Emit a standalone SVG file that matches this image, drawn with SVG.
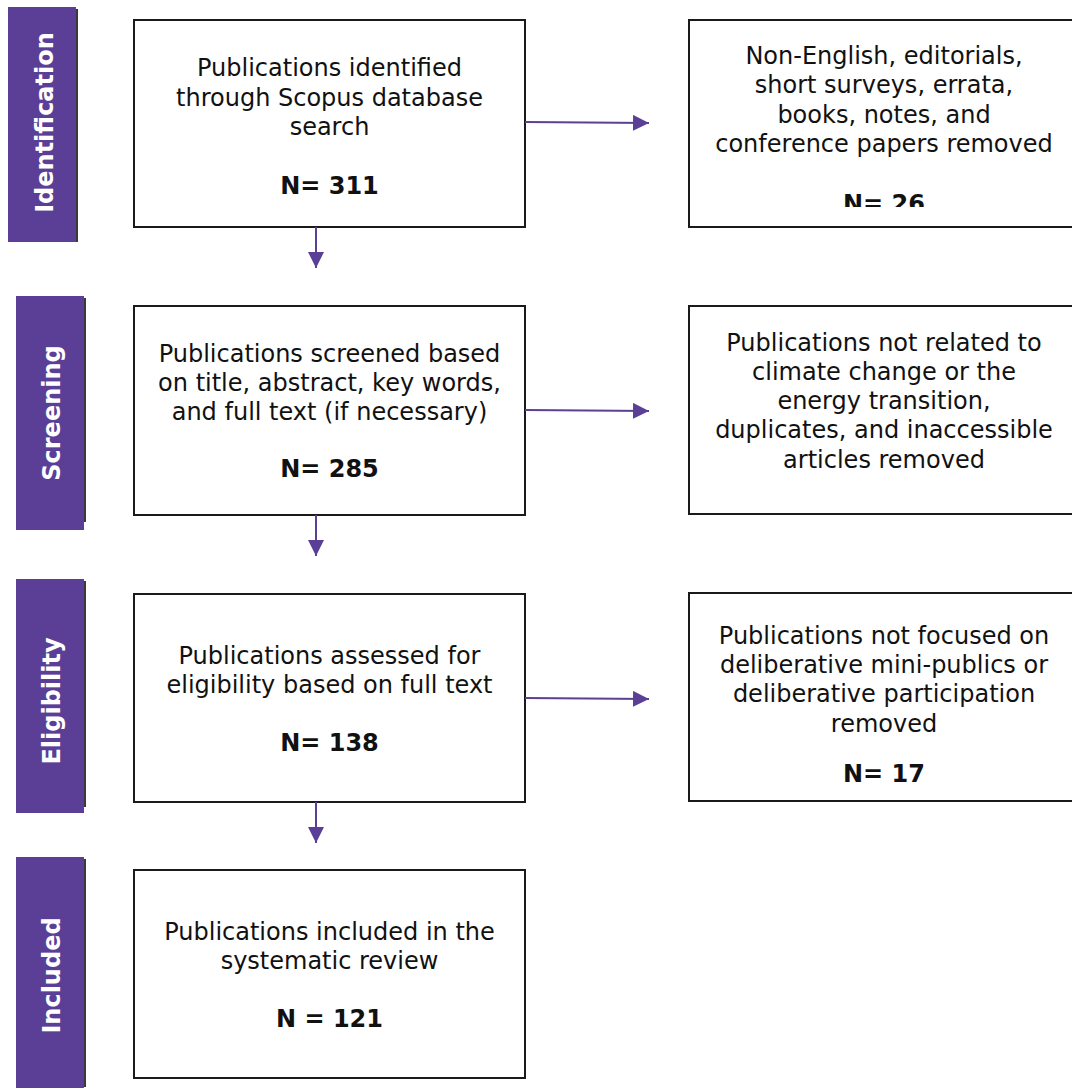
<svg xmlns="http://www.w3.org/2000/svg" width="1072" height="1088" viewBox="0 0 1072 1088">
<style>
.bar{fill:#5B3F97;stroke:none}
.shadow{fill:#3a3a3a}
.lbl{font-family:"DejaVu Sans","Verdana",sans-serif;font-size:24px;font-weight:bold;fill:#ffffff;text-anchor:middle}
.box{fill:#ffffff;stroke:#1a1a1a;stroke-width:2}
.t{font-family:"DejaVu Sans","Verdana",sans-serif;font-size:24px;fill:#111111;text-anchor:middle}
.n{font-family:"DejaVu Sans","Verdana",sans-serif;font-size:24px;font-weight:bold;fill:#111111;text-anchor:middle}
.conn{stroke:#5B3F97;stroke-width:2;fill:none}
</style>
<defs>
<marker id="ah" markerUnits="userSpaceOnUse" markerWidth="16" markerHeight="16" refX="16" refY="8" orient="auto">
<path d="M0,0 L16,8 L0,16 Z" fill="#5B3F97"/>
</marker>
<clipPath id="clipR1"><rect x="689" y="19" width="390" height="188"/></clipPath>
</defs>
<rect width="1072" height="1088" fill="#ffffff"/>

<g id="stage-identification">
<rect class="shadow" x="76" y="9" width="2" height="233"/>
<rect class="bar" x="8" y="7" width="68" height="235"/>
<text class="lbl" transform="translate(52.5,122.5) rotate(-90)">Identification</text>
</g>
<g id="stage-screening">
<rect class="shadow" x="84" y="298" width="2" height="224"/>
<rect class="bar" x="16" y="296" width="68" height="234"/>
<text class="lbl" transform="translate(59.5,413) rotate(-90)">Screening</text>
</g>
<g id="stage-eligibility">
<rect class="shadow" x="84" y="581" width="2" height="226"/>
<rect class="bar" x="16" y="579" width="68" height="234"/>
<text class="lbl" transform="translate(59.5,701) rotate(-90)">Eligibility</text>
</g>
<g id="stage-included">
<rect class="shadow" x="84" y="859" width="2" height="228"/>
<rect class="bar" x="16" y="857" width="68" height="231"/>
<text class="lbl" transform="translate(59.5,975.5) rotate(-90)">Included</text>
</g>

<g id="identified">
<rect class="box" x="134" y="20" width="391" height="207"/>
<text class="t" x="329.5" y="76">Publications identified</text>
<text class="t" x="329.5" y="105.5">through Scopus database</text>
<text class="t" x="329.5" y="135">search</text>
<text class="n" x="329.5" y="194">N= 311</text>
</g>
<g id="excluded-1">
<rect class="box" x="689" y="20" width="390" height="207"/>
<text class="t" x="884" y="64">Non-English, editorials,</text>
<text class="t" x="884" y="93.3">short surveys, errata,</text>
<text class="t" x="884" y="122.6">books, notes, and</text>
<text class="t" x="884" y="151.9">conference papers removed</text>
<text class="n" x="884" y="212" clip-path="url(#clipR1)">N= 26</text>
</g>

<g id="screened">
<rect class="box" x="134" y="306" width="391" height="209"/>
<text class="t" x="329.5" y="362">Publications screened based</text>
<text class="t" x="329.5" y="391.2">on title, abstract, key words,</text>
<text class="t" x="329.5" y="420.4">and full text (if necessary)</text>
<text class="n" x="329.5" y="477">N= 285</text>
</g>
<g id="excluded-2">
<rect class="box" x="689" y="306" width="390" height="208"/>
<text class="t" x="884" y="350.7">Publications not related to</text>
<text class="t" x="884" y="379.9">climate change or the</text>
<text class="t" x="884" y="409.1">energy transition,</text>
<text class="t" x="884" y="438.3">duplicates, and inaccessible</text>
<text class="t" x="884" y="467.5">articles removed</text>
</g>

<g id="eligible">
<rect class="box" x="134" y="594" width="391" height="208"/>
<text class="t" x="329.5" y="664">Publications assessed for</text>
<text class="t" x="329.5" y="693.2">eligibility based on full text</text>
<text class="n" x="329.5" y="751">N= 138</text>
</g>
<g id="excluded-3">
<rect class="box" x="689" y="593" width="390" height="208"/>
<text class="t" x="884" y="644">Publications not focused on</text>
<text class="t" x="884" y="673.2">deliberative mini-publics or</text>
<text class="t" x="884" y="702.4">deliberative participation</text>
<text class="t" x="884" y="731.6">removed</text>
<text class="n" x="884" y="782">N= 17</text>
</g>

<g id="included">
<rect class="box" x="134" y="870" width="391" height="208"/>
<text class="t" x="329.5" y="940">Publications included in the</text>
<text class="t" x="329.5" y="969.2">systematic review</text>
<text class="n" x="329.5" y="1027">N = 121</text>
</g>

<g id="connectors">
<line class="conn" x1="525" y1="122" x2="649" y2="123" marker-end="url(#ah)"/>
<line class="conn" x1="525" y1="410" x2="649" y2="411" marker-end="url(#ah)"/>
<line class="conn" x1="525" y1="698" x2="649" y2="699" marker-end="url(#ah)"/>
<line class="conn" x1="316" y1="227" x2="316" y2="268" marker-end="url(#ah)"/>
<line class="conn" x1="316" y1="515" x2="316" y2="556" marker-end="url(#ah)"/>
<line class="conn" x1="316" y1="802" x2="316" y2="843" marker-end="url(#ah)"/>
</g>
</svg>
